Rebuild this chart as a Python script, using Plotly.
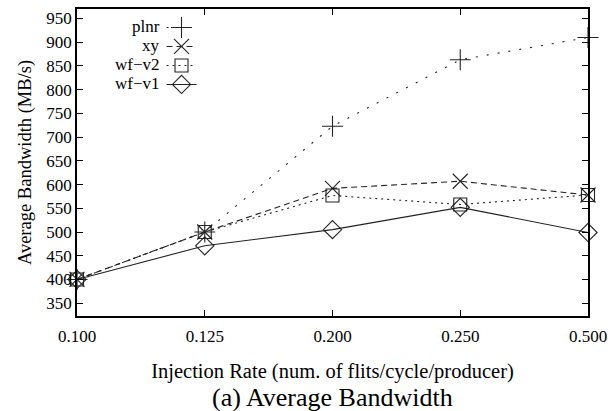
import plotly.graph_objects as go

x_labels = ["0.100", "0.125", "0.200", "0.250", "0.500"]
plnr = [400, 500, 723, 863, 910]
xy = [400, 500, 592, 607, 578]
wf_v2 = [400, 500, 577, 558, 578]
wf_v1 = [400, 471, 505, 552, 499]
y_ticks = [350, 400, 450, 500, 550, 600, 650, 700, 750, 800, 850, 900, 950]
series_names = ["plnr", "xy", "wf\u2212v2", "wf\u2212v1"]

FONT = "Liberation Serif, Times New Roman, serif"
ink = "#222222"

styles = [
    ("cross-thin-open", 15, "2px,9px"),
    ("x-thin-open", 15, "6px,4px"),
    ("square-open", 13, "2px,4px"),
    ("diamond-open", 14, "solid"),
]
values = [plnr, xy, wf_v2, wf_v1]

W, H = 614, 411
ML, MR, MT, MB = 77, 17, 7, 95
PW, PH = W - ML - MR, H - MT - MB

fig = go.Figure()
for name, vals, (sym, size, dash) in zip(series_names, values, styles):
    fig.add_trace(go.Scatter(
        x=x_labels, y=vals, name=name, mode="lines+markers",
        line=dict(color=ink, width=1.1, dash=dash),
        marker=dict(symbol=sym, size=size, color=ink, line=dict(color=ink, width=1.1)),
        cliponaxis=False,
    ))

axis_common = dict(
    showline=True, linecolor="black", linewidth=1.5, mirror="ticks",
    ticks="inside", ticklen=6, tickwidth=1.2, tickcolor="black",
    showgrid=False, zeroline=False,
    tickfont=dict(family=FONT, size=17, color="black"),
)

# legend names drawn to the left of the legend samples (gnuplot style)
leg_sym_x = 183          # pixel x of legend sample centre
leg_first_y = 25         # pixel y of first legend row
leg_row = 19             # legend row height in px
annotations = []
for i, name in enumerate(series_names):
    annotations.append(dict(
        text=name, xref="paper", yref="paper",
        x=(leg_sym_x - 20 - ML) / PW, y=(H - MB - (leg_first_y + leg_row * i)) / PH,
        xanchor="right", yanchor="middle", showarrow=False,
        font=dict(family=FONT, size=17, color="black")))
annotations.append(dict(text="(a) Average Bandwidth", xref="paper", yref="paper",
                        x=0.5, y=-0.264, xanchor="center", yanchor="middle",
                        showarrow=False, font=dict(family=FONT, size=26, color="black")))

fig.update_layout(
    width=W, height=H,
    margin=dict(l=ML, r=MR, t=MT, b=MB),
    paper_bgcolor="white", plot_bgcolor="white",
    font=dict(family=FONT, color="black"),
    showlegend=True,
    legend=dict(x=(leg_sym_x - 20 - ML) / PW, y=(H - MB - (leg_first_y - 14)) / PH,
                xanchor="left", yanchor="top",
                font=dict(family=FONT, size=1, color="rgba(0,0,0,0)"),
                bgcolor="rgba(0,0,0,0)", tracegroupgap=0),
    xaxis=dict(type="category", range=[0, 4], ticklabelstandoff=4,
               title=dict(text="Injection Rate (num. of flits/cycle/producer)",
                          font=dict(family=FONT, size=20.5), standoff=18),
               **axis_common),
    yaxis=dict(range=[323, 970], tickvals=y_ticks,
               title=dict(text="Average Bandwidth (MB/s)",
                          font=dict(family=FONT, size=18.5), standoff=10),
               **axis_common),
    annotations=annotations,
)

fig.write_html("out.html")
